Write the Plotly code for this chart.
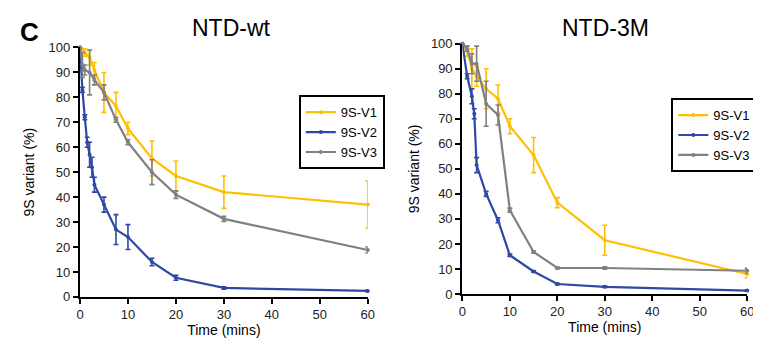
import plotly.graph_objects as go

# ---------------- data ----------------
series_names = ["9S-V1", "9S-V2", "9S-V3"]
colors = ["#FFC000", "#2E48A6", "#808080"]

# NTD-wt panel
wt_v1_t = [0, 1, 2, 3, 5, 7.5, 10, 15, 20, 30, 60]
wt_v1_y = [100, 98, 96, 91, 82, 76.5, 67.5, 55.5, 48.5, 42, 37]
wt_v1_e = [0, 1.5, 3, 3, 8, 5.5, 2.5, 7, 6, 6.5, 9.5]

wt_v2_t = [0, 0.5, 1, 1.5, 2, 2.5, 3, 5, 7.5, 10, 15, 20, 30, 60]
wt_v2_y = [100, 83, 72, 62, 57, 52, 45, 37, 27, 24, 14, 7.7, 3.6, 2.4]
wt_v2_e = [0, 1, 1, 2, 5, 4, 3, 3, 6, 5, 1.5, 1, 0.5, 0.3]

wt_v3_t = [0, 0.5, 1, 2, 3, 5, 7.5, 10, 15, 20, 30, 60]
wt_v3_y = [100, 93, 91, 90, 87, 82, 71, 62, 50, 41, 31.3, 18.8]
wt_v3_e = [0, 5, 2, 9, 2, 3, 1, 1, 5, 1.5, 1, 1.2]

# NTD-3M panel
m3_v1_t = [0, 1, 2, 3, 5, 7.5, 10, 15, 20, 30, 60]
m3_v1_y = [100, 97, 90, 87, 82, 78, 67, 55.5, 36.5, 21.5, 8]
m3_v1_e = [0, 2, 8, 4, 8, 5.5, 3, 7, 2, 6, 1.6]

m3_v2_t = [0, 1, 2, 2.5, 3, 5, 7.5, 10, 15, 20, 30, 60]
m3_v2_y = [100, 87, 79, 72, 51.5, 40, 29.5, 15.5, 9, 4, 2.9, 1.4]
m3_v2_e = [0, 1, 3, 2, 3, 1, 1, 0.5, 0.3, 0.3, 0.3, 0.3]

m3_v3_t = [0, 1, 2, 3, 5, 7.5, 10, 15, 20, 30, 60]
m3_v3_y = [100, 98, 92, 92, 76, 71.5, 33.5, 16.8, 10.4, 10.4, 9.3]
m3_v3_e = [0, 1, 4, 7, 9, 4, 0.8, 0.5, 0.4, 0.5, 1]

panel_titles = ["NTD-wt", "NTD-3M"]
x_ticks = [0, 10, 20, 30, 40, 50, 60]
y_ticks = [0, 10, 20, 30, 40, 50, 60, 70, 80, 90, 100]

# ---------------- figure ----------------
W, H = 761, 338
FONT = "Liberation Sans, Arial, sans-serif"
fig = go.Figure()

panels = [
    ([(wt_v1_t, wt_v1_y, wt_v1_e), (wt_v2_t, wt_v2_y, wt_v2_e), (wt_v3_t, wt_v3_y, wt_v3_e)], "x", "y", "legend"),
    ([(m3_v1_t, m3_v1_y, m3_v1_e), (m3_v2_t, m3_v2_y, m3_v2_e), (m3_v3_t, m3_v3_y, m3_v3_e)], "x2", "y2", "legend2"),
]

for data, xa, ya, lg in panels:
    for (t, y, e), name, c in zip(data, series_names, colors):
        fig.add_trace(go.Scatter(
            x=t, y=y, name=name, mode="lines+markers",
            line=dict(color=c, width=2.2),
            marker=dict(color=c, size=4),
            error_y=dict(type="data", array=e, visible=True, color=c, thickness=1.6, width=2.5),
            xaxis=xa, yaxis=ya, legend=lg, cliponaxis=False,
        ))

def px_x(p):
    return p / W

def px_y(p):
    return 1 - p / H

TICK = 13
ATITLE = 14
axis_common = dict(
    showline=True, linecolor="black", ticks="outside", tickcolor="black",
    ticklen=5, showgrid=False, zeroline=False,
    tickfont=dict(family=FONT, size=TICK, color="#222"),
)

fig.update_layout(
    width=W, height=H,
    margin=dict(l=0, r=0, t=0, b=0),
    paper_bgcolor="white", plot_bgcolor="white",
    font=dict(family=FONT, color="black"),
    xaxis=dict(domain=[px_x(69), px_x(361)], range=[0, 60], tickvals=x_ticks,
               linewidth=1.6, tickwidth=1.6, anchor="y",
               title=dict(text="Time (mins)", font=dict(family=FONT, size=ATITLE), standoff=3),
               **axis_common),
    yaxis=dict(domain=[px_y(295), px_y(34)], range=[0, 100], tickvals=y_ticks,
               linewidth=2.4, tickwidth=1.6, anchor="x",
               title=dict(text="9S variant (%)", font=dict(family=FONT, size=ATITLE), standoff=11),
               **axis_common),
    xaxis2=dict(domain=[px_x(457), px_x(746)], range=[0, 60], tickvals=x_ticks,
                linewidth=1.6, tickwidth=1.6, anchor="y2",
                title=dict(text="Time (mins)", font=dict(family=FONT, size=ATITLE), standoff=3),
                **axis_common),
    yaxis2=dict(domain=[px_y(292), px_y(30)], range=[0, 100], tickvals=y_ticks,
                linewidth=2.4, tickwidth=1.6, anchor="x2",
                title=dict(text="9S variant (%)", font=dict(family=FONT, size=ATITLE), standoff=8),
                **axis_common),
    legend=dict(x=px_x(291), y=px_y(84), xanchor="left", yanchor="top",
                bgcolor="white", bordercolor="black", borderwidth=2,
                font=dict(family=FONT, size=13), tracegroupgap=0, itemwidth=30),
    legend2=dict(x=px_x(669), y=px_y(87), xanchor="left", yanchor="top",
                 bgcolor="white", bordercolor="black", borderwidth=2,
                 font=dict(family=FONT, size=13), tracegroupgap=0, itemwidth=30),
    showlegend=True,
)

fig.add_annotation(text="<b>C</b>", x=px_x(6), y=px_y(0), xref="paper", yref="paper",
                   xanchor="left", yanchor="top", showarrow=False,
                   font=dict(family=FONT, size=26, color="black"))
fig.add_annotation(text=panel_titles[0], x=px_x(223), y=px_y(14), xref="paper", yref="paper",
                   xanchor="center", yanchor="middle", showarrow=False,
                   font=dict(family=FONT, size=23, color="black"))
fig.add_annotation(text=panel_titles[1], x=px_x(602), y=px_y(14), xref="paper", yref="paper",
                   xanchor="center", yanchor="middle", showarrow=False,
                   font=dict(family=FONT, size=23, color="black"))

fig.write_html("out.html")
